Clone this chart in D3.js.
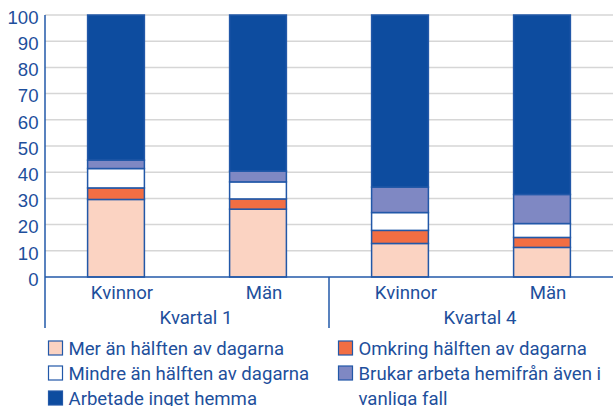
<!DOCTYPE html>
<html>
<head>
<meta charset="utf-8">
<script src="https://cdn.jsdelivr.net/npm/d3@7"></script>
<style>
  html, body { margin: 0; padding: 0; background: #fff; }
  svg { display: block; font-family: Roboto, "Noto Sans", sans-serif; }
</style>
</head>
<body>
<svg id="chart" width="613" height="406"></svg>
<script>
// Categories: gender within quarter
const quarters = ["Kvartal 1", "Kvartal 4"];
const genders = ["Kvinnor", "Män"];
const yTicks = [0, 10, 20, 30, 40, 50, 60, 70, 80, 90, 100];

// Series (percent), stacked bottom to top; order: K1 Kvinnor, K1 Män, K4 Kvinnor, K4 Män
const seriesNames = [
  "Mer än hälften av dagarna",
  "Omkring hälften av dagarna",
  "Mindre än hälften av dagarna",
  "Brukar arbeta hemifrån även i vanliga fall",
  "Arbetade inget hemma"
];
const merAnHalften = [29.6, 25.9, 12.8, 11.3];
const omkringHalften = [4.4, 3.9, 5.0, 3.8];
const mindreAnHalften = [7.4, 6.5, 6.8, 5.3];
const brukarArbeta = [3.2, 4.1, 9.7, 11.1];
const inget = [55.4, 59.6, 65.7, 68.5];

const colors = ["#fbd3c2", "#f26e43", "#ffffff", "#7f88c3", "#0d4c9f"];
const textColor = "#1e4f9c";
const fontSize = 18.6;

const svg = d3.select("#chart");
const margin = { left: 45, right: 0, top: 15, bottom: 129 };
const W = 613, H = 406;
const x0 = margin.left, x1 = W - margin.right;
const yTop = margin.top, yBot = H - margin.bottom;

const cats = [];
quarters.forEach(q => genders.forEach(g => cats.push(q + "|" + g)));
const rows = cats.map((c, i) => ({
  key: c,
  values: [merAnHalften[i], omkringHalften[i], mindreAnHalften[i], brukarArbeta[i], inget[i]]
}));

const x = d3.scaleBand().domain(cats).range([x0, x1]).paddingInner(0.6).paddingOuter(0.3);
const y = d3.scaleLinear().domain([0, 100]).range([yBot, yTop]);

// Gridlines
svg.append("g")
  .selectAll("line")
  .data(yTicks.filter(t => t > 0))
  .join("line")
  .attr("x1", x0).attr("x2", x1)
  .attr("y1", d => y(d)).attr("y2", d => y(d))
  .attr("stroke", "#d6d6d6").attr("stroke-width", 1.5);

// Y axis labels
const yAxis = svg.append("g")
  .attr("transform", `translate(${x0},0)`)
  .call(d3.axisLeft(y).tickValues(yTicks).tickSize(0).tickPadding(6.5));
yAxis.select(".domain").remove();
yAxis.selectAll("text")
  .attr("fill", textColor).attr("font-size", fontSize).attr("dy", "0.45em");

// Stacked bars
const stackData = rows.map(r => {
  let acc = 0;
  return r.values.map((v, j) => {
    const seg = { key: r.key, j, y0: acc, y1: acc + v };
    acc += v;
    return seg;
  });
}).flat();

svg.append("g")
  .selectAll("rect")
  .data(stackData)
  .join("rect")
  .attr("x", d => x(d.key))
  .attr("width", x.bandwidth())
  .attr("y", d => y(d.y1))
  .attr("height", d => y(d.y0) - y(d.y1))
  .attr("fill", d => colors[d.j])
  .attr("stroke", "#2258a8")
  .attr("stroke-width", 1.5);

// Axes lines
svg.append("line")
  .attr("x1", x0).attr("x2", x1).attr("y1", yBot).attr("y2", yBot)
  .attr("stroke", "#2258a8").attr("stroke-width", 1.5);
svg.append("line")
  .attr("x1", x0).attr("x2", x0).attr("y1", yTop).attr("y2", 328)
  .attr("stroke", "#2258a8").attr("stroke-width", 1.5);

// Group separators between quarters
const groupW = (x1 - x0) / quarters.length;
quarters.forEach((q, i) => {
  if (i > 0) {
    svg.append("line")
      .attr("x1", x0 + groupW * i).attr("x2", x0 + groupW * i)
      .attr("y1", yBot).attr("y2", 328)
      .attr("stroke", "#2258a8").attr("stroke-width", 1.5);
  }
});

// Category labels
svg.append("g")
  .selectAll("text")
  .data(cats)
  .join("text")
  .attr("x", d => x(d) + x.bandwidth() / 2 + 6)
  .attr("y", 299)
  .attr("text-anchor", "middle")
  .attr("fill", textColor).attr("font-size", fontSize)
  .text(d => d.split("|")[1]);

// Quarter labels
svg.append("g")
  .selectAll("text")
  .data(quarters)
  .join("text")
  .attr("x", (d, i) => x0 + groupW * (i + 0.5) + 9)
  .attr("y", 324)
  .attr("text-anchor", "middle")
  .attr("fill", textColor).attr("font-size", fontSize)
  .text(d => d);

// Legend: two columns
const legendOrder = [
  { i: 0, col: 0, row: 0 },
  { i: 1, col: 1, row: 0 },
  { i: 2, col: 0, row: 1 },
  { i: 3, col: 1, row: 1 },
  { i: 4, col: 0, row: 2 }
];
const colX = [48.5, 338.5];
const rowY = [341, 366, 391];
const legend = svg.append("g");
legendOrder.forEach(o => {
  const g = legend.append("g");
  g.append("rect")
    .attr("x", colX[o.col]).attr("y", rowY[o.row])
    .attr("width", 14).attr("height", 14)
    .attr("fill", colors[o.i]).attr("stroke", "#2258a8").attr("stroke-width", 1.2);
  const t = g.append("text")
    .attr("x", colX[o.col] + 20).attr("y", rowY[o.row] + 13.5)
    .attr("fill", textColor).attr("font-size", fontSize);
  if (o.i === 3) {
    t.append("tspan").text("Brukar arbeta hemifrån även i");
    t.append("tspan").attr("x", colX[o.col] + 20).attr("dy", 25).text("vanliga fall");
  } else {
    t.text(seriesNames[o.i]);
  }
});
</script>
</body>
</html>
